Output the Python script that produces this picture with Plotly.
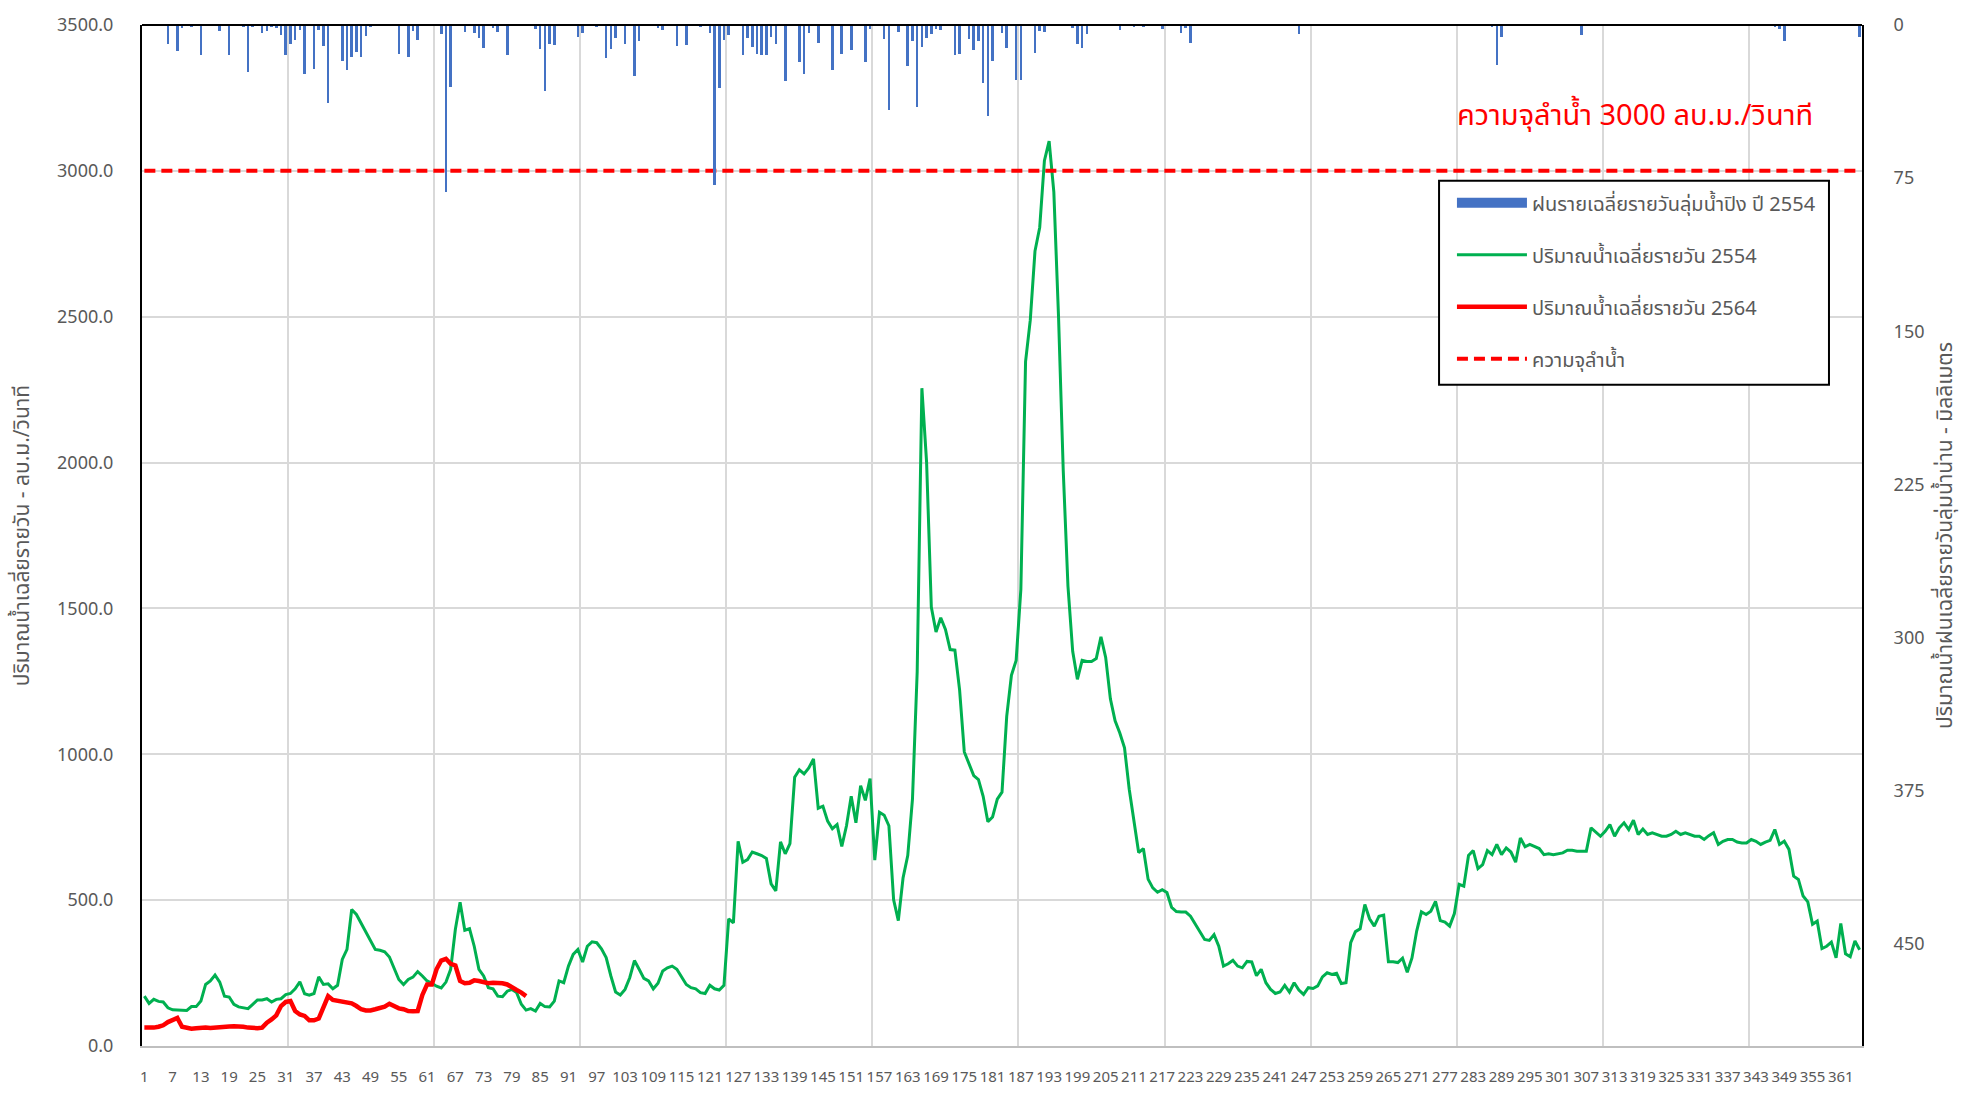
import plotly.graph_objects as go

# ---------------- data ----------------
days = list(range(1, 366))
tick_days = list(range(1, 366, 6))

flow_2554 = [
    171, 146, 160, 153, 151, 131, 124, 123, 122, 122,
    135, 135, 154, 211, 223, 243, 219, 171, 168, 143,
    134, 132, 128, 143, 158, 158, 162, 151, 160, 162,
    176, 180, 196, 220, 179, 174, 180, 237, 211, 213,
    196, 208, 297, 331, 468, 451, 422, 394, 360, 331,
    328, 323, 305, 268, 228, 211, 228, 236, 255, 240,
    223, 215, 205, 199, 219, 263, 400, 493, 397, 402,
    342, 263, 240, 200, 196, 171, 169, 188, 194, 183,
    143, 123, 128, 120, 146, 135, 134, 154, 223, 217,
    274, 314, 331, 288, 342, 357, 354, 333, 303, 240,
    185, 175, 194, 234, 293, 263, 232, 223, 196, 215,
    257, 268, 274, 263, 236, 211, 200, 196, 183, 180,
    208, 196, 192, 208, 436, 422, 702, 630, 639, 665,
    659, 653, 643, 556, 532, 700, 659, 694, 921, 947,
    933, 953, 984, 815, 822, 771, 745, 759, 684, 755,
    856, 765, 892, 842, 917, 637, 801, 791, 755, 501,
    430, 576, 653, 846, 1282, 2255, 2001, 1505, 1419, 1468,
    1428, 1359, 1357, 1221, 1008, 968, 927, 913, 856, 769,
    785, 846, 870, 1130, 1271, 1322, 1565, 2346, 2488, 2725,
    2806, 3035, 3102, 2927, 2498, 1971, 1576, 1353, 1257, 1322,
    1318, 1318, 1328, 1403, 1332, 1190, 1115, 1073, 1022, 880,
    775, 663, 677, 572, 542, 527, 536, 526, 475, 461,
    459, 459, 445, 417, 390, 365, 362, 382, 342, 274,
    282, 294, 274, 268, 290, 288, 241, 263, 217, 194,
    180, 185, 208, 185, 217, 192, 177, 200, 197, 206,
    237, 251, 245, 249, 214, 217, 354, 392, 402, 485,
    436, 411, 445, 449, 289, 289, 286, 301, 253, 302,
    394, 460, 451, 462, 496, 430, 425, 411, 454, 554,
    548, 653, 670, 608, 622, 670, 656, 691, 656, 679,
    665, 630, 713, 683, 691, 683, 677, 656, 659, 656,
    659, 662, 671, 671, 668, 668, 668, 748, 733, 719,
    736, 759, 719, 748, 765, 742, 774, 725, 744, 725,
    731, 725, 719, 719, 725, 736, 725, 731, 725, 719,
    719, 708, 721, 731, 691, 702, 708, 708, 699, 696,
    696, 708, 702, 691, 699, 705, 742, 691, 702, 674,
    582, 571, 514, 494, 417, 428, 334, 342, 356, 302,
    420, 316, 306, 360, 330,
]

flow_2564 = [
    63, 62, 63, 66, 71, 82, 89, 96, 66, 61,
    59, 61, 63, 63, 62, 64, 66, 65, 67, 68,
    68, 66, 63, 61, 61, 63, 80, 91, 105, 137,
    151, 154, 120, 108, 103, 88, 88, 94, 137, 171,
    158, 155, 154, 151, 146, 137, 126, 122, 122, 126,
    129, 135, 145, 135, 129, 126, 120, 119, 120, 175,
    211, 211, 263, 293, 299, 282, 276, 223, 215, 217,
    225, 223, 217, 215, 217, 217, 215, 211, 200, 192,
    183, 171,
]

rain_days = [
    6, 8, 9, 11, 13, 17, 19, 22, 23, 24, 26, 27, 28, 29, 30, 31, 32, 33, 34, 35,
    37, 38, 39, 40, 43, 44, 45, 46, 47, 48, 49, 55, 57, 58, 59, 64, 65, 66, 69, 71,
    72, 73, 75, 76, 78, 84, 85, 86, 87, 88, 93, 94, 97, 99, 100, 101, 103, 105, 106, 110,
    111, 114, 116, 119, 121, 122, 123, 124, 125, 128, 129, 130, 131, 132, 133, 134, 135, 137, 140, 141,
    142, 144, 147, 149, 151, 154, 155, 158, 159, 161, 163, 164, 165, 166, 167, 168, 169, 170, 173, 174,
    176, 177, 178, 179, 180, 181, 183, 184, 186, 187, 190, 191, 192, 198, 199, 200, 201, 208, 211, 213,
    217, 221, 222, 223, 246, 287, 288, 289, 306, 347, 348, 349, 365,
]
rain_mm = [
    9.3, 12.7, 1.4, 0.7, 14.9, 2.9, 14.6, 0.5, 23.1, 0.7, 3.7, 3.0, 0.5, 1.4, 4.8, 14.6, 9.1, 7.4, 2.5, 24.1,
    21.7, 2.5, 10.3, 38.1, 17.5, 22.2, 15.9, 13.0, 15.6, 5.3, 0.5, 14.1, 15.9, 2.9, 7.4, 4.3, 81.9, 30.4, 3.4, 3.9,
    6.4, 11.1, 1.4, 3.4, 14.6, 2.0, 11.6, 32.3, 9.1, 9.8, 5.8, 3.9, 0.7, 16.2, 11.7, 6.6, 9.3, 25.1, 7.7, 1.4,
    2.5, 10.3, 9.6, 0.7, 3.9, 78.2, 31.0, 7.4, 4.7, 14.6, 6.4, 10.8, 14.1, 14.8, 14.8, 5.8, 9.3, 27.5, 18.3, 23.8,
    3.7, 8.8, 21.9, 14.1, 12.2, 18.3, 2.0, 6.9, 41.7, 3.4, 19.9, 7.9, 40.0, 10.8, 6.4, 4.5, 2.2, 2.5, 14.9, 14.1,
    6.7, 12.2, 7.9, 28.3, 44.4, 17.8, 3.7, 11.1, 26.7, 26.7, 13.5, 3.0, 3.4, 1.4, 9.3, 11.4, 4.5, 2.5, 0.7, 0.7,
    2.0, 3.7, 1.7, 8.8, 4.5, 1.0, 19.7, 5.8, 4.8, 1.0, 2.2, 7.9, 5.8,
]

capacity = 3000
y_ticks = [0, 500, 1000, 1500, 2000, 2500, 3000, 3500]
y2_ticks = [0, 75, 150, 225, 300, 375, 450]

name_rain = "ฝนรายเฉลี่ยรายวันลุ่มน้ำปิง ปี 2554"
name_2554 = "ปริมาณน้ำเฉลี่ยรายวัน 2554"
name_2564 = "ปริมาณน้ำเฉลี่ยรายวัน 2564"
name_cap = "ความจุลำน้ำ"
title_y = "ปริมาณน้ำเฉลี่ยรายวัน - ลบ.ม./วินาที"
title_y2 = "ปริมาณน้ำฝนเฉลี่ยรายวันลุ่มน้ำน่าน - มิลลิเมตร"
note = "ความจุลำน้ำ 3000 ลบ.ม./วินาที"

# ---------------- figure ----------------
FONT = "Leelawadee UI, Tahoma, 'Noto Sans Thai', 'Noto Sans', sans-serif"
GRAY = "#595959"
GRID = "#D9D9D9"
BLUE = "#4472C4"

fig = go.Figure()
fig.add_trace(go.Bar(
    x=rain_days, y=rain_mm, yaxis="y2", name=name_rain,
    marker=dict(color=BLUE, line=dict(width=0)), width=0.55,
    legendgroup="g1", showlegend=False,
))
# legend entry for the rainfall bars (wide swatch like the original)
fig.add_trace(go.Scatter(
    x=[None], y=[None], yaxis="y2", mode="lines", name=name_rain,
    line=dict(color=BLUE, width=17), legendgroup="g1", hoverinfo="skip",
))
fig.add_trace(go.Scatter(
    x=days, y=flow_2554, mode="lines", name=name_2554,
    line=dict(color="#00B050", width=3), legendgroup="g2",
))
fig.add_trace(go.Scatter(
    x=days[:len(flow_2564)], y=flow_2564, mode="lines", name=name_2564,
    line=dict(color="#FF0000", width=4.5), legendgroup="g3",
))
fig.add_trace(go.Scatter(
    x=days, y=[capacity] * len(days), mode="lines", name=name_cap,
    line=dict(color="#FF0000", width=4, dash="11px,6px"), legendgroup="g4",
))

fig.update_layout(
    width=1978, height=1101,
    margin=dict(l=142, r=116, t=21, b=44),
    paper_bgcolor="white", plot_bgcolor="white",
    font=dict(family=FONT, color=GRAY, size=17),
    bargap=0,
    showlegend=True,
    legend=dict(
        x=0.7616, y=0.845, xanchor="left", yanchor="top",
        bgcolor="rgba(0,0,0,0)", borderwidth=0,
        font=dict(size=20, color=GRAY),
        traceorder="grouped", tracegroupgap=23, itemwidth=70,
    ),
    xaxis=dict(
        range=[0.5, 365.5], tickmode="array", tickvals=tick_days,
        ticktext=[str(d) for d in tick_days], tickangle=0,
        tickfont=dict(size=15, color=GRAY), showgrid=False, zeroline=False,
        showline=True, linecolor="#BFBFBF", linewidth=2, ticks="",
        ticklabelstandoff=16,
        minor=dict(tickmode="linear", tick0=0.5, dtick=31, showgrid=True,
                   gridcolor=GRID, gridwidth=1.5, ticks=""),
    ),
    yaxis=dict(
        range=[0, 3500], tickmode="array", tickvals=y_ticks,
        tickformat=".1f", tickfont=dict(size=18, color=GRAY),
        showgrid=True, gridcolor=GRID, gridwidth=1.5, zeroline=False,
        showline=True, linecolor="black", linewidth=2, ticks="",
        ticklabelstandoff=23,
        title=dict(text=title_y, font=dict(size=21, color=GRAY), standoff=22),
    ),
    yaxis2=dict(
        overlaying="y", side="right", range=[500, 0], tickmode="array",
        tickvals=y2_ticks, tickfont=dict(size=18, color=GRAY),
        showgrid=False, zeroline=False, showline=True, linecolor="black",
        linewidth=2, ticks="", ticklabelstandoff=26,
        title=dict(text=title_y2, font=dict(size=21, color=GRAY), standoff=14),
    ),
    shapes=[
        dict(type="line", xref="paper", yref="paper", x0=0, x1=1, y0=1, y1=1,
             line=dict(color="black", width=2)),
        dict(type="rect", xref="paper", yref="paper", x0=0.7541, x1=0.9808,
             y0=0.6477, y1=0.8475, fillcolor="white",
             line=dict(color="black", width=2), layer="above"),
    ],
    annotations=[dict(
        text=note, xref="paper", yref="paper", x=0.868, y=0.911,
        xanchor="center", yanchor="middle", showarrow=False,
        font=dict(size=29, color="#FF0000"),
    )],
)

post = (
    "document.documentElement.style.margin='0';"
    "document.body.style.margin='0';"
    "document.documentElement.style.overflow='hidden';"
    "document.body.style.overflow='hidden';"
    "var gd=document.getElementById('{plot_id}');"
    "gd.style.position='fixed';gd.style.left='0px';gd.style.top='0px';"
)

fig.write_html(
    "out.html",
    config={"displayModeBar": False},
    post_script=post,
)
